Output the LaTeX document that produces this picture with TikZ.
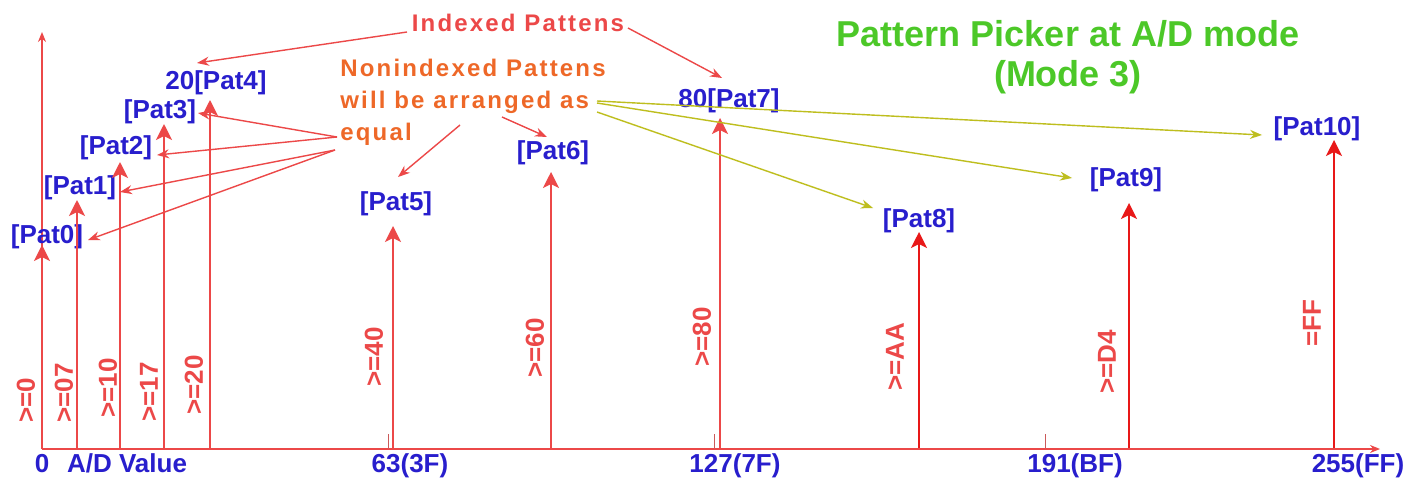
\documentclass[tikz,border=0pt]{standalone}
\usepackage{fontspec}
\setmainfont{Liberation Sans}
\newfontfamily\spaced[LetterSpace=9]{Liberation Sans}
\usetikzlibrary{arrows.meta}
\definecolor{lred}{RGB}{236,72,72}
\definecolor{dred}{RGB}{232,24,24}
\definecolor{pblue}{RGB}{40,30,205}
\definecolor{porange}{RGB}{238,104,40}
\definecolor{pyel}{RGB}{190,190,30}
\definecolor{pgreen}{RGB}{76,200,40}
\begin{document}
\begin{tikzpicture}[x=0.5pt,y=-0.5pt,
  lbl/.style={text=pblue,font=\fontsize{13}{15}\selectfont\bfseries,inner sep=0pt},
  thr/.style={text=lred,font=\fontsize{13}{15}\selectfont\bfseries,inner sep=0pt,rotate=90},
  axlbl/.style={text=pblue,font=\fontsize{13}{15}\selectfont\bfseries,inner sep=0pt,anchor=base},
  varrow/.style={draw=lred,line width=1pt,-{Stealth[length=8pt,width=8pt,inset=2pt]}},
  vdarrow/.style={draw=dred,line width=1.1pt,-{Stealth[length=8pt,width=8pt,inset=2pt]}},
  axis/.style={draw=lred,line width=0.6pt,-{Stealth[length=5pt,width=4pt]}},
  tick/.style={draw=lred!70!gray,line width=0.5pt},
  tarrow/.style={draw=lred,line width=0.7pt,-{Stealth[length=6pt,width=4.5pt]}},
  yarrow/.style={draw=pyel,line width=0.7pt,-{Stealth[length=6pt,width=4.5pt]}},
  note/.style={inner sep=0pt,font=\spaced\bfseries\fontsize{12}{16}\selectfont}
]
\useasboundingbox[fill=white] (0,0) rectangle (1422,477);

% axes
\coordinate (o) at (42,449);
\coordinate (yend) at (42,32);
\coordinate (xend) at (1380,449);
\draw[axis] (o) -- (yend);
\draw[axis] (o) -- (xend);

% ticks
\foreach \x/\n in {388/t63,714/t127,1045/t191,1333/t255}{
  \coordinate (\n a) at (\x,434);
  \coordinate (\n b) at (\x,449);
  \draw[tick] (\n a) -- (\n b);
}

% pattern labels
\node[lbl] (p0) at (47,237) {[Pat0]};
\node[lbl] (p1) at (80,188) {[Pat1]};
\node[lbl] (p2) at (116,148) {[Pat2]};
\node[lbl] (p3) at (160,112) {[Pat3]};
\node[lbl] (p4) at (216,83) {20[Pat4]};
\node[lbl] (p5) at (396,204) {[Pat5]};
\node[lbl] (p6) at (553,153) {[Pat6]};
\node[lbl] (p7) at (729,101) {80[Pat7]};
\node[lbl] (p8) at (919,221) {[Pat8]};
\node[lbl] (p9) at (1126,180) {[Pat9]};
\node[lbl] (p10) at (1317,129) {[Pat10]};

% vertical arrows
\foreach \i/\x/\t in {0/42/245,1/77/200,2/120/162,3/164/124,4/210/100,5/393/226,6/551/172,7/720/118}{
  \coordinate (b\i) at (\x,449);
  \coordinate (v\i) at (\x,\t);
  \draw[varrow] (b\i) -- (v\i);
}
\foreach \i/\x/\t in {8/919/232,9/1129/203,10/1334/140}{
  \coordinate (b\i) at (\x,448);
  \coordinate (v\i) at (\x,\t);
  \draw[vdarrow] (b\i) -- (v\i);
}

% thresholds
\node[thr] (h0) at (26,400) {>=0};
\node[thr] (h1) at (64,393) {>=07};
\node[thr] (h2) at (108,388) {>=10};
\node[thr] (h3) at (149,392) {>=17};
\node[thr] (h4) at (194,385) {>=20};
\node[thr] (h5) at (374,357) {>=40};
\node[thr] (h6) at (535,348) {>=60};
\node[thr] (h7) at (702,337) {>=80};
\node[thr] (h8) at (895,357) {>=AA};
\node[thr] (h9) at (1107,362) {>=D4};
\node[thr] (h10) at (1312,323) {=FF};

% axis labels
\node[axlbl] (l0) at (42,472) {0};
\node[axlbl] (lad) at (127,472) {A/D Value};
\node[axlbl] (l63) at (410,472) {63(3F)};
\node[axlbl] (l127) at (735,472) {127(7F)};
\node[axlbl] (l191) at (1075,472) {191(BF)};
\node[axlbl] (l255) at (1358,472) {255(FF)};

% title
\node[text=pgreen,align=center,inner sep=0pt,font=\fontsize{18}{20}\selectfont\bfseries] (title) at (1068,57) {Pattern Picker at A/D mode\\(Mode 3)};

% notes
\node[note,text=lred] (idx) at (518,23) {Indexed Pattens};
\node[note,text=porange,anchor=west,align=left] (non) at (340,102) {Nonindexed Pattens\\will be arranged as\\equal};

% indexed arrows
\coordinate (i1) at (407,32);
\coordinate (i2) at (628,28);
\coordinate (ti4) at (197,63);
\coordinate (ti7) at (722,78);
\draw[tarrow] (i1) -- (ti4);
\draw[tarrow] (i2) -- (ti7);

% nonindexed arrows (red)
\coordinate (e1) at (337,137);
\coordinate (e2) at (335,150);
\coordinate (a3) at (198,113);
\coordinate (a2) at (157,155);
\coordinate (a1) at (120,192);
\coordinate (a0) at (88,240);
\draw[tarrow] (e1) -- (a3);
\draw[tarrow] (e1) -- (a2);
\draw[tarrow] (e2) -- (a1);
\draw[tarrow] (e2) -- (a0);
\coordinate (n5) at (460,125);
\coordinate (a5) at (398,177);
\coordinate (n6) at (502,117);
\coordinate (a6) at (547,137);
\draw[tarrow] (n5) -- (a5);
\draw[tarrow] (n6) -- (a6);

% nonindexed arrows (yellow)
\coordinate (s1) at (597,101);
\coordinate (s2) at (597,103);
\coordinate (s3) at (597,112);
\coordinate (a10) at (1262,135);
\coordinate (a9) at (1072,178);
\coordinate (a8) at (873,208);
\draw[yarrow] (s1) -- (a10);
\draw[yarrow] (s2) -- (a9);
\draw[yarrow] (s3) -- (a8);
\end{tikzpicture}
\end{document}
